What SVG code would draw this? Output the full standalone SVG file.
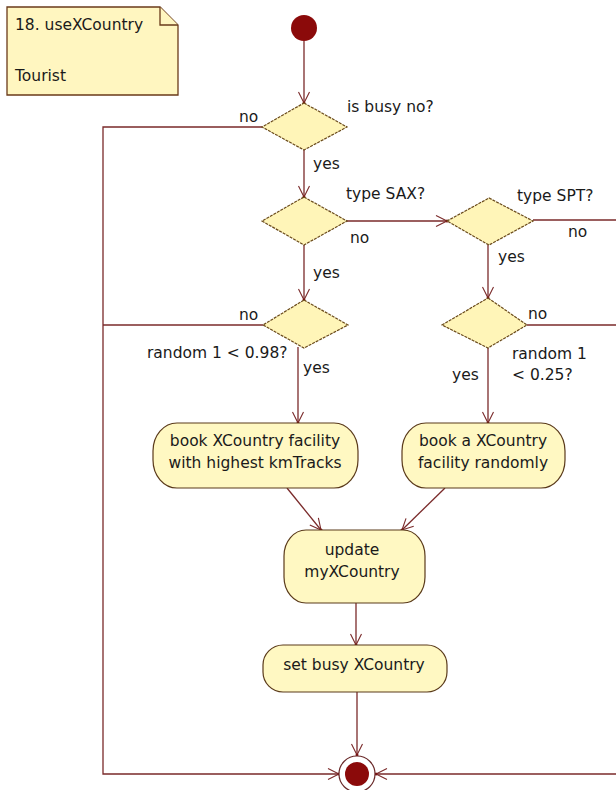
<svg xmlns="http://www.w3.org/2000/svg" width="616" height="790" viewBox="0 0 616 790">
  <style>
    text { font-family: "DejaVu Sans", Verdana, sans-serif; font-size: 15.5px; fill: #1a1a1a; }
    .mid { text-anchor: middle; }
    .edge { fill: none; stroke: #7a2a2a; stroke-width: 1.3; }
    .act { fill: #fff8c2; stroke: #5a3a1a; stroke-width: 1.2; }
    .dec { fill: #fff5b8; stroke: #6a4a1a; stroke-width: 1.2; stroke-dasharray: 3 1; }
    .note { fill: #fff6c0; stroke: #6a3a1a; stroke-width: 1.3; }
    .solid { fill: #8b0a0a; }
  </style>
  <defs>
    <marker id="arrow" viewBox="-12 -7 14 14" refX="0" refY="0" markerWidth="14" markerHeight="14" markerUnits="userSpaceOnUse" orient="auto">
      <path d="M-11,-5.5 L0,0 L-11,5.5" fill="none" stroke="#7a2a2a" stroke-width="1.1"/>
      <circle cx="0" cy="0" r="1.5" fill="#7a1010"/>
    </marker>
  </defs>

  <!-- note -->
  <g id="note">
    <path class="note" d="M7,7 H160 L178,25 V95 H7 Z"/>
    <path class="note" d="M160,7 V25 H178" fill="none"/>
    <text x="15" y="30">18. useXCountry</text>
    <text x="15" y="81">Tourist</text>
  </g>

  <!-- connectors -->
  <g id="connectors">
    <line class="edge" x1="304" y1="41" x2="304" y2="103" marker-end="url(#arrow)"/>
    <line class="edge" x1="304" y1="150" x2="304" y2="197" marker-end="url(#arrow)"/>
    <line class="edge" x1="304" y1="245" x2="304" y2="300" marker-end="url(#arrow)"/>
    <line class="edge" x1="298" y1="347" x2="298" y2="423" marker-end="url(#arrow)"/>
    <line class="edge" x1="347" y1="221" x2="447" y2="221" marker-end="url(#arrow)"/>
    <line class="edge" x1="488" y1="245" x2="488" y2="298" marker-end="url(#arrow)"/>
    <line class="edge" x1="488" y1="348" x2="488" y2="423" marker-end="url(#arrow)"/>
    <line class="edge" x1="287" y1="488" x2="321" y2="530" marker-end="url(#arrow)"/>
    <line class="edge" x1="445" y1="488" x2="402" y2="530" marker-end="url(#arrow)"/>
    <line class="edge" x1="356" y1="603" x2="356" y2="645" marker-end="url(#arrow)"/>
    <line class="edge" x1="357" y1="692" x2="357" y2="755" marker-end="url(#arrow)"/>
    <!-- left return path -->
    <polyline class="edge" points="262,127 103,127 103,774 339,774" marker-end="url(#arrow)"/>
    <line class="edge" x1="263" y1="325" x2="103" y2="325"/>
    <!-- right return path -->
    <line class="edge" x1="533" y1="220" x2="620" y2="220"/>
    <line class="edge" x1="527" y1="325" x2="620" y2="325"/>
    <line class="edge" x1="620" y1="774" x2="376" y2="774" marker-end="url(#arrow)"/>
    <!-- guard labels -->
    <text x="347" y="112">is busy no?</text>
    <text x="239" y="122">no</text>
    <text x="313" y="169">yes</text>
    <text x="346" y="199">type SAX?</text>
    <text x="350" y="243">no</text>
    <text x="313" y="278">yes</text>
    <text x="517" y="201">type SPT?</text>
    <text x="568" y="237">no</text>
    <text x="498" y="262">yes</text>
    <text x="239" y="320">no</text>
    <text x="147" y="358">random 1 &lt; 0.98?</text>
    <text x="303" y="373">yes</text>
    <text x="528" y="319">no</text>
    <text x="512" y="359">random 1</text>
    <text x="512" y="380">&lt; 0.25?</text>
    <text x="452" y="380">yes</text>
  </g>

  <!-- start -->
  <g id="start">
    <circle class="solid" cx="304" cy="28" r="13"/>
  </g>

  <!-- decisions -->
  <g id="isBusy">
    <polygon class="dec" points="304,103 347,127 304,150 262,127"/>
  </g>
  <g id="typeSAX">
    <polygon class="dec" points="304,197 347,221 304,245 262,221"/>
  </g>
  <g id="random098">
    <polygon class="dec" points="304,300 348,325 304,348 263,325"/>
  </g>
  <g id="typeSPT">
    <polygon class="dec" points="489,198 533,221 489,245 447,221"/>
  </g>
  <g id="random025">
    <polygon class="dec" points="488,298 527,325 488,348 442,325"/>
  </g>

  <!-- actions -->
  <g id="bookHighest">
    <rect class="act" x="153" y="423" width="205" height="65" rx="24" ry="28"/>
    <text class="mid" x="255" y="446">book XCountry facility</text>
    <text class="mid" x="255" y="468">with highest kmTracks</text>
  </g>
  <g id="bookRandom">
    <rect class="act" x="402" y="423" width="163" height="65" rx="24" ry="28"/>
    <text class="mid" x="483" y="446">book a XCountry</text>
    <text class="mid" x="483" y="468">facility randomly</text>
  </g>
  <g id="updateMy">
    <rect class="act" x="284" y="530" width="141" height="73" rx="22" ry="26"/>
    <text class="mid" x="352" y="555">update</text>
    <text class="mid" x="352" y="577">myXCountry</text>
  </g>
  <g id="setBusy">
    <rect class="act" x="263" y="645" width="184" height="47" rx="20" ry="20"/>
    <text class="mid" x="354" y="670">set busy XCountry</text>
  </g>

  <!-- final -->
  <g id="final">
    <circle cx="357" cy="774" r="18" fill="#ffffff" stroke="#6a2a2a" stroke-width="1.2"/>
    <circle class="solid" cx="357" cy="774" r="12"/>
  </g>
</svg>
